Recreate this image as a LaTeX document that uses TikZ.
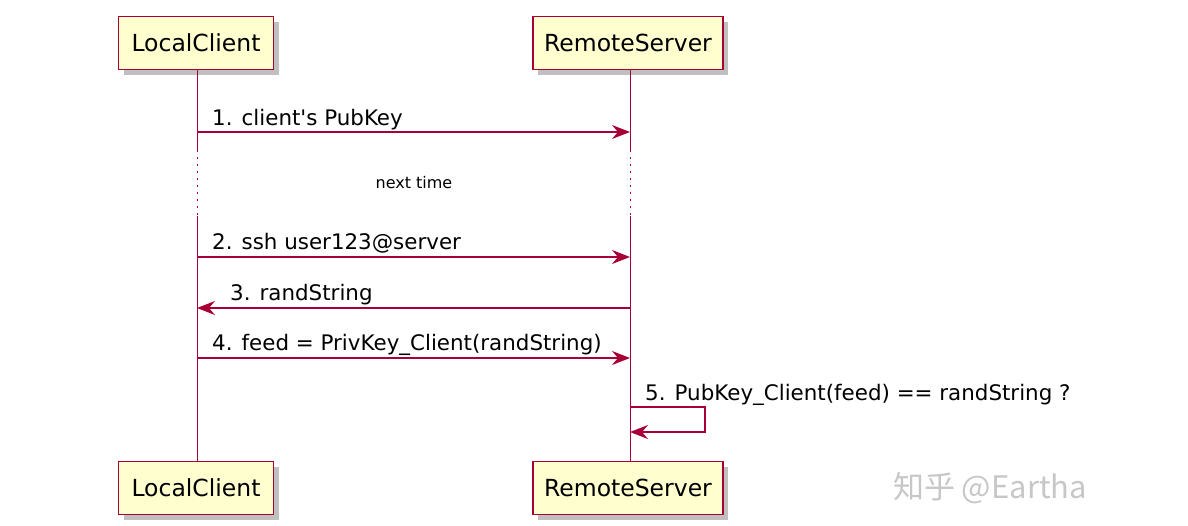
\documentclass[tikz,border=0pt]{standalone}
\usepackage{fontspec}
\setmainfont{DejaVu Sans}
\newfontfamily\cjk{Noto Sans CJK SC}
\usetikzlibrary{arrows.meta, shadows}

\definecolor{umlred}{HTML}{A80036}
\definecolor{umlfill}{HTML}{FEFECE}

\tikzset{
  actor/.style={draw=umlred, fill=umlfill, line width=1.6pt, minimum height=53pt,
    inner sep=0pt, font=\fontsize{23.5}{26}\selectfont,
    drop shadow={shadow xshift=5pt, shadow yshift=-5pt, fill=black!45, opacity=0.55}},
  life/.style={draw=umlred, line width=0.9pt},
  msg/.style={draw=umlred, line width=1.3pt, -{Stealth[length=18pt, width=14pt, inset=6pt]}},
  lbl/.style={anchor=base west, inner sep=0pt, font=\fontsize{21.4}{24}\selectfont},
}

\begin{document}
\begin{tikzpicture}[x=1pt, y=-1pt]
        \useasboundingbox (0,0) rectangle (1188,525);

        % participants
        \node[actor, minimum width=155pt] (lc) at (196,43) {LocalClient};
        \node[actor, minimum width=190pt] (rs) at (628,43) {RemoteServer};
        \node[actor, minimum width=155pt] (lcb) at (196,488) {LocalClient};
        \node[actor, minimum width=190pt] (rsb) at (628,488) {RemoteServer};

        % lifelines
        \coordinate (lc1) at (197,150);
        \coordinate (lc2) at (197,216);
        \coordinate (rs1) at (630,150);
        \coordinate (rs2) at (630,216);
        \draw[life] (lc.south -| lc1) -- (lc1);
        \draw[life, dash pattern=on 1.5pt off 5.5pt] (lc1) -- (lc2);
        \draw[life] (lc2) -- (lcb.north -| lc2);
        \draw[life] (rs.south -| rs1) -- (rs1);
        \draw[life, dash pattern=on 1.5pt off 5.5pt] (rs1) -- (rs2);
        \draw[life] (rs2) -- (rsb.north -| rs2);

        % messages
        \coordinate (a1) at (197,132);
        \coordinate (b1) at (630,132);
        \draw[msg] (a1) -- (b1);
        \node[lbl] (m1) at (212,125) {1. client\textquotesingle s PubKey};

        \node[font=\fontsize{16}{19}\selectfont] (gap) at (414,183) {next time};

        \coordinate (a2) at (197,257);
        \coordinate (b2) at (630,257);
        \draw[msg] (a2) -- (b2);
        \node[lbl] (m2) at (212,249) {2. ssh user123@server};

        \coordinate (a3) at (197,308);
        \coordinate (b3) at (630,308);
        \draw[msg] (b3) -- (a3);
        \node[lbl] (m3) at (230,300) {3. randString};

        \coordinate (a4) at (197,358);
        \coordinate (b4) at (630,358);
        \draw[msg] (a4) -- (b4);
        \node[lbl] (m4) at (212,350) {4. feed = PrivKey\_Client(randString)};

        \coordinate (b5) at (630,407);
        \coordinate (c5) at (630,432);
        \draw[msg] (b5) -- ++(75,0) |- (c5);
        \node[lbl] (m5) at (645,400) {5. PubKey\_Client(feed) == randString ?};

        % watermark
        \node[text=black!22, font=\cjk\fontsize{31}{34}\selectfont] (wm) at (990,488) {知乎 @Eartha};
\end{tikzpicture}
\end{document}
